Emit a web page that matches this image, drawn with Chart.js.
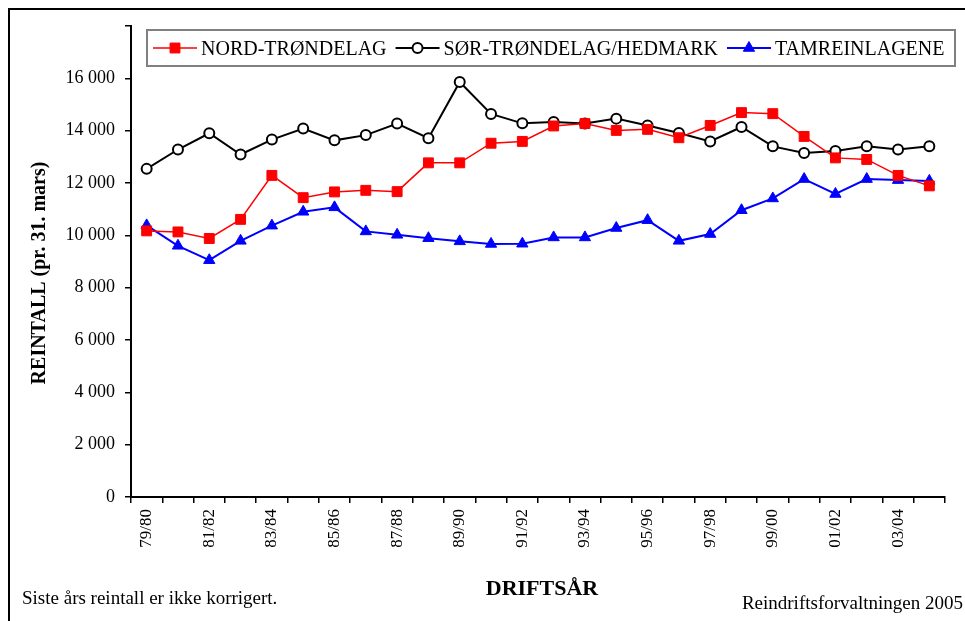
<!DOCTYPE html>
<html>
<head>
<meta charset="utf-8">
<script src="https://cdn.jsdelivr.net/npm/chart.js@4.4.1/dist/chart.umd.min.js"></script>
<style>
  html, body { margin: 0; padding: 0; background: #fff; }
  #wrap { position: relative; width: 965px; height: 621px; overflow: hidden; }
  #frame { position: absolute; left: 8px; top: 8px; width: 990px; height: 650px; border: 2px solid #000; }
  canvas { position: absolute; left: 0; top: 0; }
</style>
</head>
<body>
<div id="wrap">
  <div id="frame"></div>
  <canvas id="reinChart" width="965" height="621"></canvas>
</div>
<script>
// driftsår 79/80 - 04/05
const seasons = [
  "79/80","80/81","81/82","82/83","83/84","84/85","85/86","86/87","87/88",
  "88/89","89/90","90/91","91/92","92/93","93/94","94/95","95/96","96/97",
  "97/98","98/99","99/00","00/01","01/02","02/03","03/04","04/05"
];

// reintall pr. 31. mars (lest av fra figuren)
const nordTrondelag = [
  10170, 10130, 9880, 10610, 12290, 11440, 11660, 11720, 11670, 12770, 12770, 13520, 13590,
  14180, 14270, 14010, 14050, 13730, 14200, 14690, 14650, 13780, 12960, 12900, 12290, 11890
];
const sorTrondelagHedmark = [
  12540, 13280, 13900, 13090, 13660, 14080, 13630, 13830, 14270, 13710, 15860, 14640, 14280,
  14330, 14270, 14460, 14200, 13910, 13590, 14140, 13400, 13150, 13220, 13400, 13280, 13400
];
const tamreinlagene = [
  10380, 9600, 9050, 9790, 10370, 10900, 11070, 10150, 10020, 9890, 9770, 9670, 9680,
  9920, 9920, 10280, 10580, 9790, 10050, 10960, 11410, 12150, 11580, 12150, 12110, 12080
];

const seriesNames = ["NORD-TRØNDELAG", "SØR-TRØNDELAG/HEDMARK", "TAMREINLAGENE"];
const yTitle = "REINTALL (pr. 31. mars)";
const xTitle = "DRIFTSÅR";
const noteLeft = "Siste års reintall er ikke korrigert.";
const noteRight = "Reindriftsforvaltningen 2005";

const SERIF = "'Liberation Serif', 'Times New Roman', serif";

function fmtThousands(v) {
  return String(v).replace(/\B(?=(\d{3})+(?!\d))/g, " ");
}

// legende + aksetitler + fotnoter
const extraText = {
  id: "extraText",
  afterDraw(chart) {
    const ctx = chart.ctx;
    const area = chart.chartArea;
    ctx.save();

    // legendeboks
    ctx.fillStyle = "#fff";
    ctx.fillRect(147, 30, 808, 36);
    ctx.strokeStyle = "#808080";
    ctx.lineWidth = 2;
    ctx.strokeRect(147, 30, 808, 36);

    ctx.font = "20px " + SERIF;
    ctx.textBaseline = "alphabetic";
    ctx.textAlign = "left";
    let x = 153;
    const ly = 48;
    chart.data.datasets.forEach(ds => {
      ctx.strokeStyle = ds.borderColor;
      ctx.lineWidth = ds.borderWidth;
      ctx.beginPath();
      ctx.moveTo(x, ly);
      ctx.lineTo(x + 44, ly);
      ctx.stroke();
      ctx.fillStyle = ds.pointBackgroundColor;
      ctx.strokeStyle = ds.pointBorderColor;
      ctx.lineWidth = ds.pointBorderWidth;
      Chart.helpers.drawPoint(ctx, {
        pointStyle: ds.pointStyle, radius: ds.pointRadius, rotation: 0, borderWidth: ds.pointBorderWidth
      }, x + 22, ly);
      ctx.fillStyle = "#000";
      ctx.fillText(ds.label, x + 48, 55);
      x += 48 + ctx.measureText(ds.label).width + 9;
    });

    // y-aksetittel
    ctx.font = "bold 20px " + SERIF;
    ctx.textAlign = "center";
    ctx.textBaseline = "middle";
    ctx.translate(40, 273);
    ctx.rotate(-Math.PI / 2);
    ctx.fillText(yTitle, 0, 0);
    ctx.setTransform(1, 0, 0, 1, 0, 0);

    // x-aksetittel
    ctx.font = "bold 22px " + SERIF;
    ctx.textBaseline = "alphabetic";
    ctx.fillText(xTitle, (area.left + area.right) / 2 + 4, 595);

    // fotnoter
    ctx.font = "19px " + SERIF;
    ctx.textAlign = "left";
    ctx.fillText(noteLeft, 22, 604);
    ctx.textAlign = "right";
    ctx.fillText(noteRight, 963, 609);

    ctx.restore();
  }
};

new Chart(document.getElementById("reinChart"), {
  type: "line",
  data: {
    labels: seasons,
    datasets: [
      {
        label: seriesNames[0],
        data: nordTrondelag,
        borderColor: "#ff0000",
        borderWidth: 1.5,
        pointStyle: "rect",
        pointRadius: 7,
        pointBackgroundColor: "#ff0000",
        pointBorderColor: "#ff0000",
        pointBorderWidth: 1,
        tension: 0
      },
      {
        label: seriesNames[1],
        data: sorTrondelagHedmark,
        borderColor: "#000000",
        borderWidth: 2,
        pointStyle: "circle",
        pointRadius: 5,
        pointBackgroundColor: "#ffffff",
        pointBorderColor: "#000000",
        pointBorderWidth: 2,
        tension: 0
      },
      {
        label: seriesNames[2],
        data: tamreinlagene,
        borderColor: "#0000ff",
        borderWidth: 2,
        pointStyle: "triangle",
        pointRadius: 6.5,
        pointBackgroundColor: "#0000ff",
        pointBorderColor: "#0000ff",
        pointBorderWidth: 1,
        tension: 0
      }
    ]
  },
  options: {
    responsive: false,
    animation: false,
    layout: { padding: { left: 0, right: 20, top: 26, bottom: 0 } },
    plugins: { legend: { display: false }, tooltip: { enabled: false } },
    scales: {
      x: {
        offset: true,
        grid: { offset: true, drawOnChartArea: false, drawTicks: true, tickLength: 6, color: "#000", lineWidth: 1.5 },
        border: { color: "#000", width: 2 },
        ticks: {
          autoSkip: false,
          minRotation: 90,
          maxRotation: 90,
          padding: 6,
          color: "#000",
          font: { family: SERIF, size: 17 },
          callback: (v, i) => (i % 2 === 0 ? seasons[i] : "")
        },
        afterFit: s => { s.height = 124; }
      },
      y: {
        min: 0,
        max: 18000,
        grid: { drawOnChartArea: false, drawTicks: true, tickLength: 6, color: "#000", lineWidth: 1.5 },
        border: { color: "#000", width: 2 },
        ticks: {
          stepSize: 2000,
          padding: 10,
          color: "#000",
          font: { family: SERIF, size: 18 },
          callback: v => (v === 18000 ? "" : fmtThousands(v))
        },
        afterFit: s => { s.width = 131; }
      }
    }
  },
  plugins: [extraText]
});
</script>
</body>
</html>
